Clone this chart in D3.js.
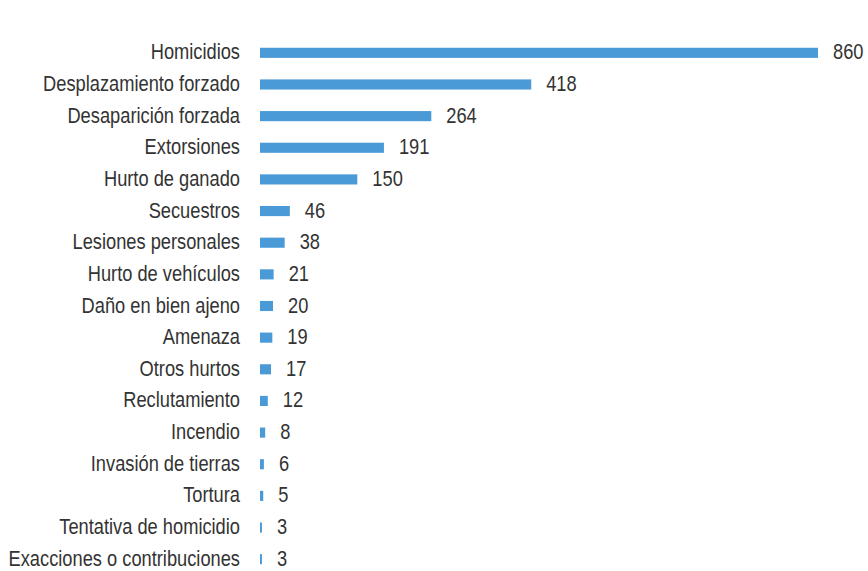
<!DOCTYPE html>
<html>
<head>
<meta charset="utf-8">
<script src="https://cdn.jsdelivr.net/npm/d3@7"></script>
<style>
  body { margin: 0; background: #fff; }
  text { font-family: "Liberation Sans Narrow", "Arial Narrow", "Liberation Sans", sans-serif; fill: #333; }
</style>
</head>
<body>
<div id="chart"></div>
<script>
// Data
const categories = [
  "Homicidios",
  "Desplazamiento forzado",
  "Desaparición forzada",
  "Extorsiones",
  "Hurto de ganado",
  "Secuestros",
  "Lesiones personales",
  "Hurto de vehículos",
  "Daño en bien ajeno",
  "Amenaza",
  "Otros hurtos",
  "Reclutamiento",
  "Incendio",
  "Invasión de tierras",
  "Tortura",
  "Tentativa de homicidio",
  "Exacciones o contribuciones"
];
const values = [860, 418, 264, 191, 150, 46, 38, 21, 20, 19, 17, 12, 8, 6, 5, 3, 3];

const width = 868;
const height = 571;
const margin = { top: 37, right: 50, bottom: -4, left: 260 };
const squeeze = 0.85; // narrow-font look

const svg = d3.select("#chart")
  .append("svg")
  .attr("width", width)
  .attr("height", height);

const x = d3.scaleLinear()
  .domain([0, 860])
  .range([margin.left, 818]);

const y = d3.scaleBand()
  .domain(categories)
  .range([margin.top, height - margin.bottom])
  .paddingInner(0.68)
  .paddingOuter(0.34);

const barH = y.bandwidth();

// bars
svg.selectAll(".bar")
  .data(values)
  .enter()
  .append("rect")
  .attr("class", "bar")
  .attr("x", x(0))
  .attr("y", (d, i) => y(categories[i]))
  .attr("width", d => Math.max(1.5, x(d) - x(0)))
  .attr("height", barH)
  .attr("fill", "#4a9ad8");

// category labels
svg.selectAll(".cat")
  .data(categories)
  .enter()
  .append("text")
  .attr("class", "cat")
  .attr("transform", d => "translate(240," + (y(d) + barH / 2 - 1) + ") scale(" + squeeze + ",1)")
  .attr("dy", "0.35em")
  .attr("text-anchor", "end")
  .style("font-size", "21.5px")
  .text(d => d);

// value labels
svg.selectAll(".val")
  .data(values)
  .enter()
  .append("text")
  .attr("class", "val")
  .attr("transform", (d, i) => "translate(" + (x(d) + 15) + "," + (y(categories[i]) + barH / 2 - 1) + ") scale(" + squeeze + ",1)")
  .attr("dy", "0.35em")
  .style("font-size", "21.5px")
  .text(d => d);
</script>
</body>
</html>
